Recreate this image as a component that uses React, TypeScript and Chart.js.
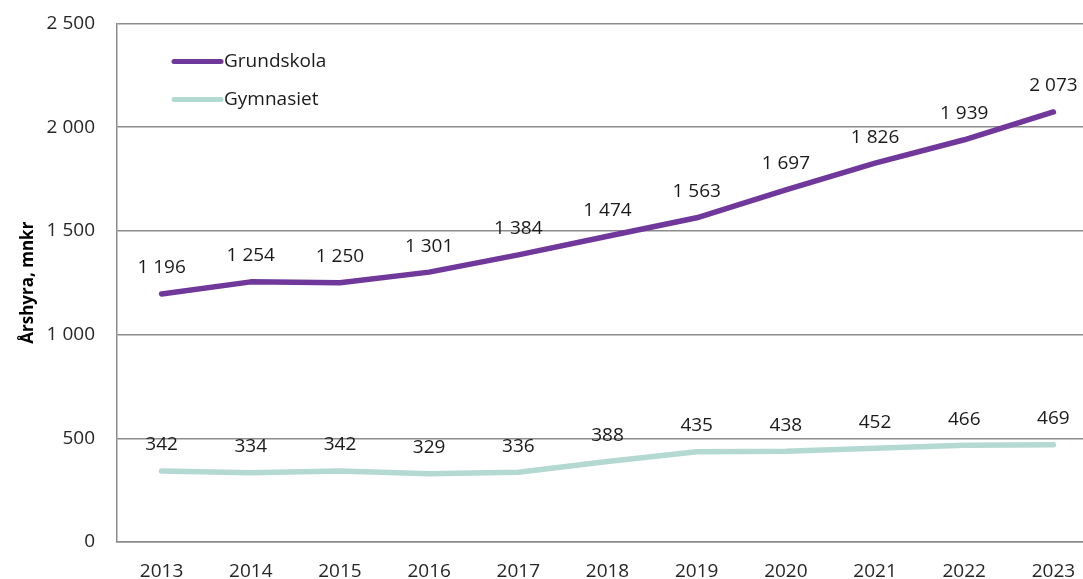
import React, { useEffect, useRef } from "react";
import { Chart, registerables } from "chart.js";

Chart.register(...registerables);

const years = ["2013", "2014", "2015", "2016", "2017", "2018", "2019", "2020", "2021", "2022", "2023"];
const grundskola = [1196, 1254, 1250, 1301, 1384, 1474, 1563, 1697, 1826, 1939, 2073];
const gymnasiet = [342, 334, 342, 329, 336, 388, 435, 438, 452, 466, 469];
const seriesNames = ["Grundskola", "Gymnasiet"];
const seriesColors = ["#70389A", "#B4D9D3"];
const yTitle = "Årshyra, mnkr";

const FONT = "'Open Sans', 'Noto Sans', sans-serif";
const CANVAS_H = 589;
const SHIFT = 10;

const fmt = (v: number) => String(Math.round(v)).replace(/\B(?=(\d{3})+(?!\d))/g, " ");

const labelPlugin = {
  id: "customLabels",
  afterDatasetsDraw(chart: any) {
    const ctx = chart.ctx;
    ctx.save();
    ctx.font = `19px ${FONT}`;
    ctx.fillStyle = "#1a1a1a";
    ctx.textAlign = "center";
    ctx.textBaseline = "middle";
    chart.data.datasets.forEach((ds: any, i: number) => {
      const meta = chart.getDatasetMeta(i);
      meta.data.forEach((pt: any, j: number) => {
        ctx.fillText(fmt(ds.data[j]), pt.x, pt.y - 26);
      });
    });
    // legend inside plot
    const area = chart.chartArea;
    chart.data.datasets.forEach((ds: any, i: number) => {
      const y = area.top + 38 + i * 38;
      const x0 = area.left + 57;
      ctx.strokeStyle = ds.borderColor;
      ctx.lineWidth = 5;
      ctx.lineCap = "round";
      ctx.beginPath();
      ctx.moveTo(x0, y);
      ctx.lineTo(x0 + 47, y);
      ctx.stroke();
      ctx.fillStyle = "#1a1a1a";
      ctx.textAlign = "left";
      ctx.fillText(ds.label, x0 + 50, y);
    });
    ctx.restore();
  },
};

export default function App() {
  const ref = useRef<HTMLCanvasElement>(null);
  useEffect(() => {
    if (!ref.current) return;
    const chart = new Chart(ref.current, {
      type: "line",
      data: {
        labels: years,
        datasets: [
          {
            label: seriesNames[0],
            data: grundskola,
            borderColor: seriesColors[0],
            backgroundColor: seriesColors[0],
            borderWidth: 5.5,
            pointRadius: 0,
            tension: 0,
            borderCapStyle: "round",
            borderJoinStyle: "round",
          },
          {
            label: seriesNames[1],
            data: gymnasiet,
            borderColor: seriesColors[1],
            backgroundColor: seriesColors[1],
            borderWidth: 5.5,
            pointRadius: 0,
            tension: 0,
            borderCapStyle: "round",
            borderJoinStyle: "round",
          },
        ],
      },
      options: {
        animation: false,
        responsive: false,
        maintainAspectRatio: false,
        layout: { padding: { top: 0, left: 0, right: 0, bottom: 0 } },
        plugins: {
          legend: { display: false },
          tooltip: { enabled: false },
        },
        scales: {
          x: {
            offset: true,
            grid: { display: false, drawTicks: false },
            border: { display: true, color: "#8c8c8c", width: 1.5 },
            ticks: {
              color: "#262626",
              font: { family: FONT, size: 19 },
              padding: 18,
              maxRotation: 0,
            },
            afterFit: (s: any) => {
              s.height = 37;
            },
          },
          y: {
            min: 0,
            max: 2500,
            grid: { color: "#8c8c8c", lineWidth: 1.5, drawTicks: false },
            border: { display: true, color: "#8c8c8c", width: 1.5 },
            ticks: {
              stepSize: 500,
              color: "#262626",
              font: { family: FONT, size: 19 },
              padding: 22,
              callback: (v: any) => fmt(Number(v)),
            },
            title: {
              display: true,
              text: yTitle,
              color: "#000",
              font: { family: FONT, size: 17, weight: "bold" },
              padding: { top: 18, bottom: 0 },
            },
            afterFit: (s: any) => {
              s.width = 117;
            },
          },
        },
      },
      plugins: [labelPlugin],
    });
    return () => chart.destroy();
  }, []);
  return (
    <div style={{ position: "fixed", left: 0, top: 0, width: 1083, height: 579, overflow: "hidden", background: "#fff" }}>
      <canvas
        ref={ref}
        width={1098}
        height={CANVAS_H}
        style={{ width: 1098, height: CANVAS_H, display: "block", marginTop: -SHIFT }}
      />
    </div>
  );
}
